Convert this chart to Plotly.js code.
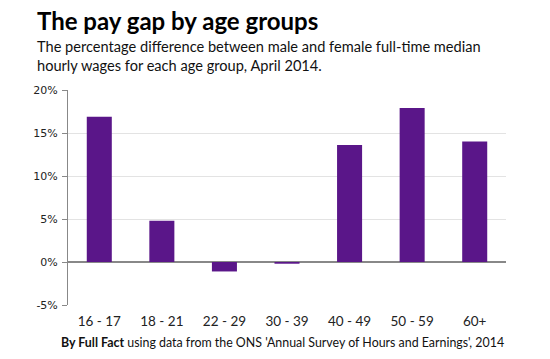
<!DOCTYPE html>
<html>
<head>
<meta charset="utf-8">
<script src="https://cdn.plot.ly/plotly-3.0.1.min.js"></script>
<style>html,body{margin:0;padding:0;background:#fff;}#chart{width:550px;height:359px;}</style>
</head>
<body>
<div id="chart"></div>
<script>
const ageGroups = ["16 - 17", "18 - 21", "22 - 29", "30 - 39", "40 - 49", "50 - 59", "60+"];
const payGap = [16.9, 4.8, -1.1, -0.2, 13.6, 17.9, 14.0];
const yTickValues = [-5, 0, 5, 10, 15, 20];
const yTickLabels = ["-5%", "0%", "5%", "10%", "15%", "20%"];

const W = 550, H = 359;
const M = {l: 68, r: 44, t: 90, b: 54};
const pw = W - M.l - M.r, ph = H - M.t - M.b;
const px = x => (x - M.l) / pw;
const py = y => (H - M.b - y) / ph;

const trace = {
  type: 'bar',
  x: ageGroups,
  y: payGap,
  marker: {color: '#5a1689'},
  hoverinfo: 'none'
};

const layout = {
  width: W, height: H,
  margin: M,
  paper_bgcolor: '#fff', plot_bgcolor: '#fff',
  showlegend: false,
  bargap: 0.6,
  font: {family: 'Lato, "Noto Sans", sans-serif', color: '#000'},
  xaxis: {
    type: 'category',
    showline: false, showgrid: false, zeroline: false,
    ticks: '',
    tickfont: {family: 'Lato, "Noto Sans", sans-serif', size: 13.5, color: '#222'},
    ticklabelstandoff: 6
  },
  yaxis: {
    range: [-5, 20],
    tickvals: yTickValues, ticktext: yTickLabels,
    showline: true, linecolor: '#888', linewidth: 1,
    ticks: 'outside', ticklen: 5, tickcolor: '#888', tickwidth: 1,
    showgrid: true, gridcolor: '#e3e3e3', gridwidth: 1,
    zeroline: true, zerolinecolor: '#888', zerolinewidth: 1.5,
    tickfont: {family: '"DejaVu Sans", Verdana, sans-serif', size: 11, color: '#222'},
    ticklabelstandoff: 2
  },
  annotations: [
    {xref: 'paper', yref: 'paper', x: px(35), y: py(21), xanchor: 'left', yanchor: 'middle',
     text: '<b>The pay gap by age groups</b>', showarrow: false,
     font: {family: 'Lato, "Noto Sans", sans-serif', size: 24, color: '#000'}},
    {xref: 'paper', yref: 'paper', x: px(35), y: py(56), xanchor: 'left', yanchor: 'middle', align: 'left',
     text: 'The percentage difference between male and female full-time median<br>hourly wages for each age group, April 2014.', showarrow: false,
     font: {family: 'Lato, "Noto Sans", sans-serif', size: 14.6, color: '#111'}},
    {xref: 'paper', yref: 'paper', x: px(506), y: py(342), xanchor: 'right', yanchor: 'middle',
     text: '<b>By Full Fact</b> using data from the ONS \'Annual Survey of Hours and Earnings\', 2014', showarrow: false,
     font: {family: 'Lato, "Noto Sans", sans-serif', size: 12.4, color: '#111'}}
  ]
};

Plotly.newPlot('chart', [trace], layout, {displayModeBar: false, staticPlot: true});
</script>
</body>
</html>
